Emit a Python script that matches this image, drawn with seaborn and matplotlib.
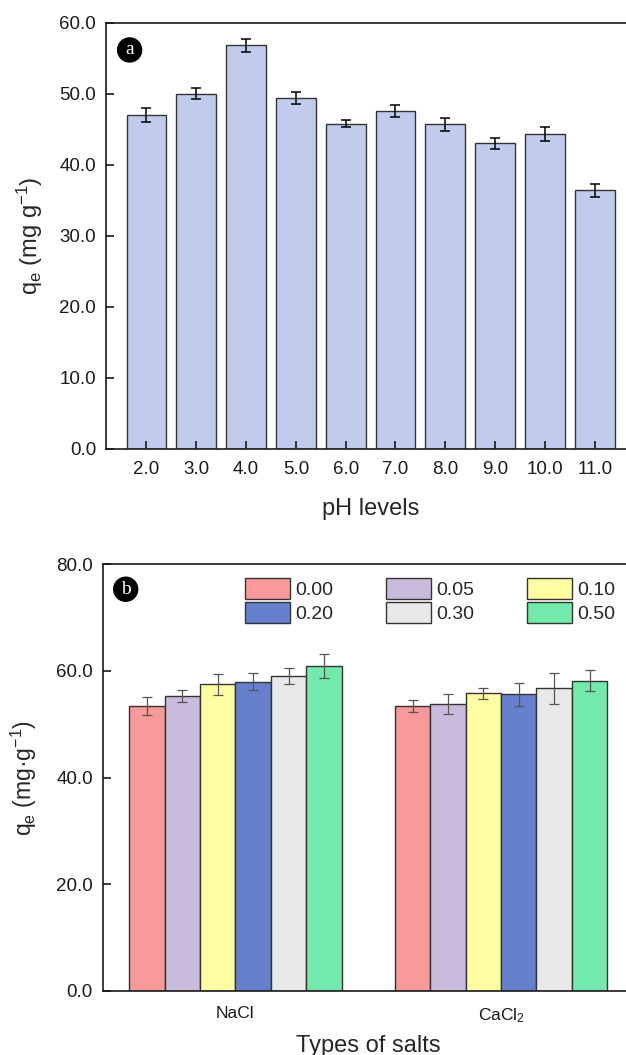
import numpy as np
import pandas as pd
import matplotlib
matplotlib.use("Agg")
import matplotlib.pyplot as plt
import seaborn as sns

# ---------------- data ----------------
ph_levels = ["2.0", "3.0", "4.0", "5.0", "6.0", "7.0", "8.0", "9.0", "10.0", "11.0"]
ph_qe = [47.0, 50.0, 56.8, 49.4, 45.8, 47.6, 45.7, 43.0, 44.3, 36.4]
ph_err = [1.0, 0.75, 0.9, 0.9, 0.47, 0.87, 0.92, 0.78, 0.99, 0.9]

salts = ["NaCl", "CaCl$_\\mathregular{2}$"]
concs = ["0.00", "0.05", "0.10", "0.20", "0.30", "0.50"]
nacl_qe = [53.4, 55.3, 57.5, 58.0, 59.1, 60.9]
nacl_err = [1.73, 1.18, 1.92, 1.57, 1.47, 2.3]
cacl2_qe = [53.4, 53.8, 55.8, 55.6, 56.8, 58.2]
cacl2_err = [1.09, 1.92, 1.09, 2.08, 2.9, 1.92]
conc_colors = ["#F79A99", "#C9BBDB", "#FFFDA2", "#6680CD", "#E8E8E8", "#73E9AC"]

# ---------------- style ----------------
sns.set_style("ticks")
plt.rcParams["font.family"] = ["Liberation Sans", "DejaVu Sans"]
plt.rcParams["mathtext.default"] = "regular"
plt.rcParams["axes.linewidth"] = 1.2

fig = plt.figure(figsize=(6.26, 10.55), dpi=100)
ax1 = fig.add_axes([0.169, 0.5747, 0.846, 0.4038])
ax2 = fig.add_axes([0.1639, 0.0607, 0.8487, 0.4044])

edge = "#333333"

# ---------------- panel a ----------------
df_a = pd.DataFrame({"pH": ph_levels, "qe": ph_qe})
sns.barplot(data=df_a, x="pH", y="qe", order=ph_levels, color="#C1CCEC",
            saturation=1, edgecolor=edge, linewidth=1.0, width=0.8,
            errorbar=None, ax=ax1)
ax1.errorbar(np.arange(len(ph_levels)), ph_qe, yerr=ph_err, fmt="none",
             ecolor="black", elinewidth=1.1, capsize=3.6, capthick=1.1)
ax1.set_axisbelow(False)
ax1.set_xlim(-0.817, len(ph_levels) - 1 + 0.817)
ax1.set_ylim(0, 60)
ax1.set_yticks(np.arange(0, 61, 10))
ax1.set_yticklabels([f"{v:.1f}" for v in np.arange(0, 61, 10)])
ax1.tick_params(axis="both", direction="in", length=6, width=1.2,
                labelsize=13.5, pad=7, colors="#1a1a1a")
ax1.tick_params(axis="x", pad=9)
ax1.set_xlabel("pH levels", fontsize=17, labelpad=14)
ax1.set_ylabel("q$_\\mathregular{e}$ (mg g$^\\mathregular{-1}$)", fontsize=17, labelpad=10)
for s in ax1.spines.values():
    s.set_visible(True)
    s.set_color("#1a1a1a")
ax1.text(0.045, 0.936, "a", transform=ax1.transAxes, ha="center", va="center",
         color="white", fontsize=14, family=["Liberation Serif", "DejaVu Serif"],
         bbox=dict(boxstyle="circle,pad=0.18", fc="black", ec="black"))

# ---------------- panel b ----------------
rows = []
for c, v in zip(concs, nacl_qe):
    rows.append({"salt": salts[0], "conc": c, "qe": v})
for c, v in zip(concs, cacl2_qe):
    rows.append({"salt": salts[1], "conc": c, "qe": v})
df_b = pd.DataFrame(rows)
sns.barplot(data=df_b, x="salt", y="qe", hue="conc", order=salts, hue_order=concs,
            palette=conc_colors, saturation=1, edgecolor=edge, linewidth=1.0,
            width=0.8, errorbar=None, ax=ax2)
errs = {c: (ne, ce) for c, ne, ce in zip(concs, nacl_err, cacl2_err)}
for cont, c in zip(ax2.containers, concs):
    xs = [p.get_x() + p.get_width() / 2 for p in cont]
    ys = [p.get_height() for p in cont]
    ax2.errorbar(xs, ys, yerr=list(errs[c]), fmt="none", ecolor="#555555",
                 elinewidth=0.9, capsize=3.6, capthick=0.9)
ax2.set_xlim(-0.5, 1.5)
ax2.set_ylim(0, 80)
ax2.set_yticks(np.arange(0, 81, 20))
ax2.set_yticklabels([f"{v:.1f}" for v in np.arange(0, 81, 20)])
ax2.tick_params(axis="y", direction="in", length=6, width=1.2, labelsize=13.5,
                pad=7, colors="#1a1a1a")
ax2.tick_params(axis="x", length=0, labelsize=12.5, pad=11, colors="#1a1a1a")
ax2.set_xlabel("Types of salts", fontsize=17, labelpad=7)
ax2.set_ylabel("q$_\\mathregular{e}$ (mg·g$^\\mathregular{-1}$)", fontsize=16.5, labelpad=12)
for s in ax2.spines.values():
    s.set_visible(True)
    s.set_color("#1a1a1a")

# legend: 3 columns, rows 0.00/0.05/0.10 and 0.20/0.30/0.50
handles = {c: cont.patches[0] for cont, c in zip(ax2.containers, concs)}
order = ["0.00", "0.20", "0.05", "0.30", "0.10", "0.50"]
if ax2.get_legend() is not None:
    ax2.get_legend().remove()
ax2.legend([handles[c] for c in order], order, ncol=3, frameon=False,
           loc="upper left", bbox_to_anchor=(245 / 626, 1 - 578 / 1055),
           bbox_transform=fig.transFigure, fontsize=14, handlelength=2.3,
           handleheight=1.3, handletextpad=0.3, columnspacing=2.7,
           labelspacing=0.15, borderpad=0, borderaxespad=0)
ax2.text(0.0435, 0.9416, "b", transform=ax2.transAxes, ha="center", va="center",
         color="white", fontsize=14, family=["Liberation Serif", "DejaVu Serif"],
         bbox=dict(boxstyle="circle,pad=0.18", fc="black", ec="black"))

fig.savefig("out.png", dpi=100)
